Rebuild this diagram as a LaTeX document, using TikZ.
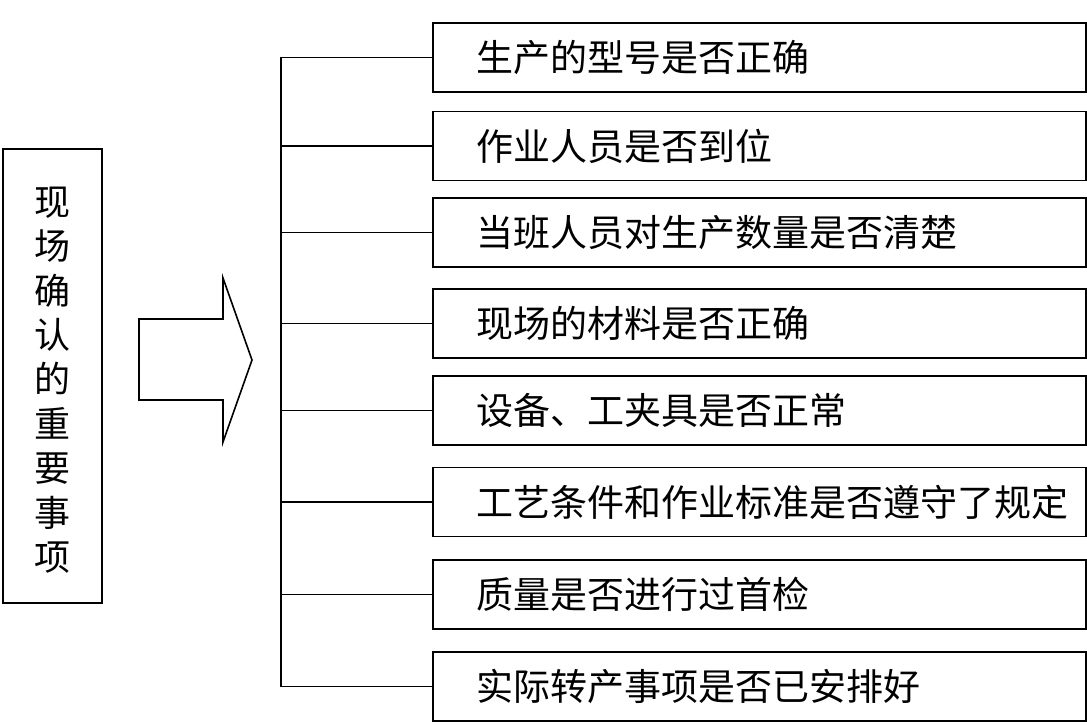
\documentclass[tikz,border=0pt]{standalone}
\usepackage{fontspec}
\newfontfamily\cjk{Noto Sans CJK SC}
\begin{document}
\begin{tikzpicture}[x=1pt,y=-1pt,
  line width=1.6pt,
  itembox/.style={draw, rectangle, minimum width=653pt, minimum height=69pt, anchor=west, inner sep=0pt},
  itemtext/.style={anchor=west, inner sep=0pt, font=\cjk\fontsize{37}{40}\selectfont},
  titlebox/.style={draw, rectangle, minimum width=99pt, minimum height=454pt, inner sep=0pt},
  titletext/.style={text width=40pt, align=center, inner sep=0pt, font=\cjk\fontsize{36}{44.4}\selectfont}]
\useasboundingbox (0,0) rectangle (1087,724);
\fill[white] (0,0) rectangle (1087,724);
% left title
\node[titlebox] (title) at (52.5,376) {};
\node[titletext] (titlet) at (52.5,380) {现\\场\\确\\认\\的\\重\\要\\事\\项};
% block arrow
\draw[line join=miter] (139,319) -- (223,319) -- (223,278) -- (252,360) -- (223,442) -- (223,400) -- (139,400) -- cycle;
% item boxes
\foreach \n/\y/\t in {1/57.5/生产的型号是否正确,
                      2/146/作业人员是否到位,
                      3/232.5/当班人员对生产数量是否清楚,
                      4/323.5/现场的材料是否正确,
                      5/410.5/设备、工夹具是否正常,
                      6/502/工艺条件和作业标准是否遵守了规定,
                      7/594.5/质量是否进行过首检,
                      8/686.5/实际转产事项是否已安排好}{
  \node[itembox] (b\n) at (432,\y) {};
  \node[itemtext] (t\n) at (476,\y) {\t};
}
% trunk and branches
\coordinate (trunk) at (281,0);
\draw (b1.west) -- (b1.west -| trunk) -- (b8.west -| trunk) -- (b8.west);
\foreach \n in {2,...,7}{
  \draw (b\n.west) -- (b\n.west -| trunk);
}
\end{tikzpicture}
\end{document}
